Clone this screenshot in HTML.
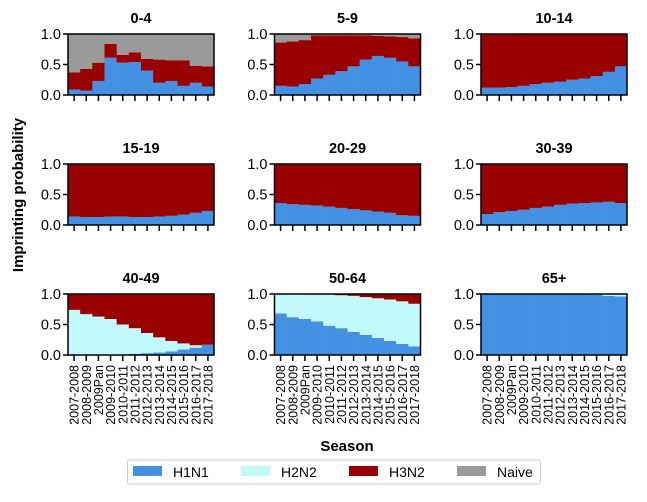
<!DOCTYPE html>
<html><head><meta charset="utf-8"><style>
body{margin:0;background:#fff;font-family:"Liberation Sans",sans-serif}
svg text{font-family:"Liberation Sans",sans-serif}
</style></head><body>
<svg id="c" width="647" height="497" viewBox="0 0 647 497"></svg>
<script>
const seasons=["2007-2008","2008-2009","2009Pan","2009-2010","2010-2011","2011-2012","2012-2013","2013-2014","2014-2015","2015-2016","2016-2017","2017-2018"];
const panelTitles=["0-4","5-9","10-14","15-19","20-29","30-39","40-49","50-64","65+"];
const yTicks=[0,0.5,1.0];
const yTickLabels=["0.0","0.5","1.0"];
const h1n1=[
[0.09,0.07,0.23,0.61,0.53,0.54,0.40,0.20,0.23,0.15,0.20,0.14],
[0.15,0.14,0.18,0.27,0.33,0.39,0.47,0.58,0.64,0.61,0.55,0.47],
[0.12,0.12,0.13,0.15,0.18,0.20,0.22,0.25,0.27,0.31,0.38,0.47],
[0.14,0.13,0.13,0.14,0.14,0.13,0.13,0.14,0.15,0.17,0.20,0.23],
[0.36,0.34,0.33,0.32,0.30,0.28,0.26,0.24,0.22,0.20,0.16,0.15],
[0.18,0.21,0.23,0.25,0.28,0.30,0.33,0.35,0.36,0.37,0.38,0.36],
[0.0,0.0,0.0,0.0,0.01,0.02,0.03,0.04,0.06,0.09,0.12,0.17],
[0.68,0.62,0.59,0.55,0.48,0.44,0.38,0.33,0.28,0.23,0.18,0.14],
[1,1,1,1,1,1,1,1,1,0.99,0.97,0.96]];
const h2n2=[
[0,0,0,0,0,0,0,0,0,0,0,0],
[0,0,0,0,0,0,0,0,0,0,0,0],
[0,0,0,0,0,0,0,0,0,0,0,0],
[0,0,0,0,0,0,0,0,0,0,0,0],
[0,0,0,0,0,0,0,0,0,0,0,0],
[0,0,0,0,0,0,0,0,0,0,0,0],
[0.74,0.67,0.63,0.59,0.49,0.42,0.33,0.25,0.17,0.10,0.04,0.0],
[0.32,0.38,0.41,0.44,0.51,0.54,0.59,0.62,0.65,0.68,0.70,0.70],
[0,0,0,0,0,0,0,0,0,0.01,0.03,0.04]];
const h3n2=[
[0.28,0.36,0.30,0.23,0.13,0.16,0.19,0.38,0.34,0.42,0.28,0.33],
[0.71,0.74,0.72,0.71,0.65,0.59,0.51,0.40,0.33,0.35,0.40,0.46],
[0.87,0.87,0.86,0.85,0.82,0.80,0.78,0.75,0.73,0.69,0.62,0.53],
[0.86,0.87,0.87,0.86,0.86,0.87,0.87,0.86,0.85,0.83,0.80,0.77],
[0.64,0.66,0.67,0.68,0.70,0.72,0.74,0.76,0.78,0.80,0.84,0.85],
[0.82,0.79,0.77,0.75,0.72,0.70,0.67,0.65,0.64,0.63,0.62,0.64],
[0.26,0.33,0.37,0.41,0.50,0.56,0.64,0.71,0.77,0.81,0.84,0.83],
[0,0,0,0.01,0.01,0.02,0.03,0.05,0.07,0.09,0.12,0.16],
[0,0,0,0,0,0,0,0,0,0,0,0]];
const colors=["#4490e2","#c2fafc","#990000","#9a9a9a"];
const svg=document.getElementById('c');
const NS="http://www.w3.org/2000/svg";
function mk(tag,attrs,parent){const e=document.createElementNS(NS,tag);for(const k in attrs)e.setAttribute(k,attrs[k]);(parent||svg).appendChild(e);return e;}
const colX=[68,274.5,481],rowY=[34,164,294],PW=146,PH=61;
for(let p=0;p<9;p++){
  const x0=colX[p%3],y0=rowY[Math.floor(p/3)];
  const g=mk('g',{});
  
  
  const bw=PW/seasons.length;
  const xs=i=>x0+i*bw;
  const ys=v=>y0+PH*(1-v);
  for(let i=0;i<seasons.length;i++){
    const a=h1n1[p][i],b=h2n2[p][i],c=h3n2[p][i];
    const segs=[[0,a],[a,a+b],[a+b,a+b+c],[a+b+c,1]];
    const names=['h1n1','h2n2','h3n2','naive'];
    segs.forEach((s,k)=>{
      const lo=Math.min(s[0],1),hi=Math.min(s[1],1);
      if(hi-lo<=0)return;
      const r=mk('rect',{x:xs(i),y:ys(hi),width:bw+0.3,height:ys(lo)-ys(hi),fill:colors[k]},g);
      
      
    });
  }
  const fr=mk('rect',{x:x0,y:y0,width:PW,height:PH,fill:'none',stroke:'#000','stroke-width':1.5},g);
  
  
  yTicks.forEach((v,k)=>{
    mk('line',{x1:x0-5,x2:x0,y1:ys(v),y2:ys(v),stroke:'#000','stroke-width':1.5},g);
    const t=mk('text',{x:x0-7,y:ys(v)+5,'text-anchor':'end','font-size':14.5,fill:'#000'},g);
    t.textContent=yTickLabels[k];
    
    
  });
  const isBottom=p>=6;
  seasons.forEach((s,i)=>{
    const cx=xs(i)+bw/2;
    mk('line',{x1:cx,x2:cx,y1:y0+PH,y2:y0+PH+6,stroke:'#000','stroke-width':1.5},g);
    if(isBottom){
      const t=mk('text',{x:cx+4.5,y:y0+PH+10,'text-anchor':'end','font-size':12.5,fill:'#000',transform:`rotate(-90 ${cx+4.5} ${y0+PH+10})`},g);
      t.textContent=s;
      
      
    }
  });
  const tt=mk('text',{x:x0+PW/2,y:y0-11,'text-anchor':'middle','font-size':14.5,'font-weight':'bold',fill:'#000'},g);
  tt.textContent=panelTitles[p];
  
  
}
const yl=mk('text',{x:23,y:195,'text-anchor':'middle','font-size':15,'font-weight':'bold',transform:'rotate(-90 23 195)'});
yl.textContent='Imprinting probability';


const xl=mk('text',{x:347,y:451,'text-anchor':'middle','font-size':15,'font-weight':'bold'});
xl.textContent='Season';


const lg=mk('g',{});


mk('rect',{x:127.5,y:460,width:413,height:24,rx:2,fill:'#fff',stroke:'#ccc'},lg);
const legendNames=["H1N1","H2N2","H3N2","Naive"];
legendNames.forEach((n,k)=>{
  const lx=133+k*108;
  const sw=mk('rect',{x:lx,y:466,width:29,height:10,fill:colors[k]},lg);
  
  
  const t=mk('text',{x:lx+40,y:477,'font-size':14},lg);
  t.textContent=n;
  
  
});
</script>
</body></html>
